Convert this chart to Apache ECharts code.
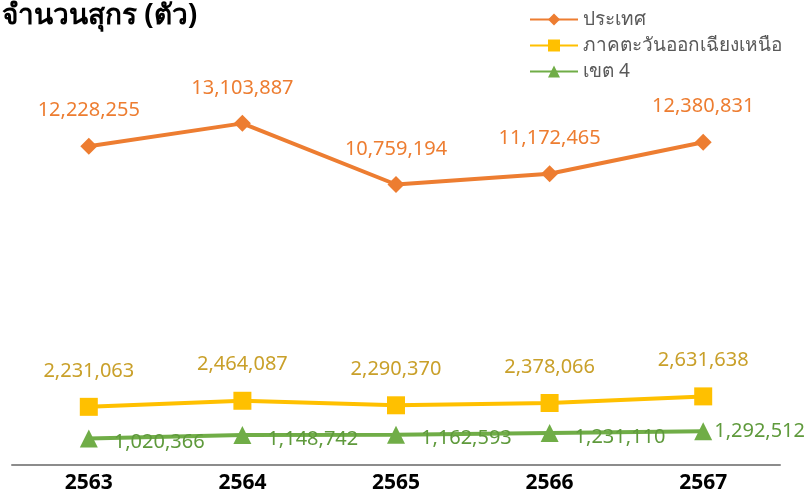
<!DOCTYPE html>
<html><head><meta charset="utf-8">
<script src="https://cdn.jsdelivr.net/npm/echarts@6/dist/echarts.min.js"></script>
<style>html,body{margin:0;padding:0;background:#fff}#c{width:808px;height:497px}</style>
</head><body><div id="c"></div>
<script>
const categories = ['2563','2564','2565','2566','2567'];
const seriesNames = ['ประเทศ','ภาคตะวันออกเฉียงเหนือ','เขต 4'];
const country = [12228255, 13103887, 10759194, 11172465, 12380831];
const northeast = [2231063, 2464087, 2290370, 2378066, 2631638];
const region4 = [1020366, 1148742, 1162593, 1231110, 1292512];
const titleText = 'จำนวนสุกร (ตัว)';

const fmt = p => Number(p.value).toLocaleString('en-US');
const font = '"Noto Sans", sans-serif';
const region4Data = region4.map((v, i) => i === region4.length - 1
  ? { value: v, label: { distance: 2, offset: [0, 0] } } : v);
const chart = echarts.init(document.getElementById('c'));
chart.setOption({
  animation: false,
  title: { text: titleText, left: -3, top: -3, textStyle: { fontFamily: font, fontSize: 28, fontWeight: 'bold', color: '#000' } },
  legend: {
    orient: 'vertical', left: 524, top: 5, itemWidth: 48, itemHeight: 15, itemGap: 7, data: seriesNames,
    textStyle: { fontFamily: font, fontSize: 19, color: '#595959' }
  },
  grid: { left: 12, right: 28, top: 100, bottom: 32 },
  xAxis: {
    type: 'category', data: categories, boundaryGap: true,
    axisLine: { lineStyle: { color: '#8c8c8c', width: 2 } }, axisTick: { show: false },
    axisLabel: { fontFamily: font, fontSize: 21, fontWeight: 'bold', color: '#000', margin: 8 }
  },
  yAxis: { type: 'value', min: 0, max: 14000000, show: false, splitLine: { show: false } },
  series: [
    { name: seriesNames[0], type: 'line', data: country, symbol: 'diamond', symbolSize: 17,
      itemStyle: { color: '#ED7D31' }, lineStyle: { width: 4, color: '#ED7D31' },
      label: { show: true, position: 'top', distance: 17, formatter: fmt, fontFamily: font, fontSize: 20, color: '#ED7D31' } },
    { name: seriesNames[1], type: 'line', data: northeast, symbol: 'rect', symbolSize: 18,
      itemStyle: { color: '#FFC000' }, lineStyle: { width: 4, color: '#FFC000' },
      label: { show: true, position: 'top', distance: 17, formatter: fmt, fontFamily: font, fontSize: 20, color: '#C9A02A' } },
    { name: seriesNames[2], type: 'line', data: region4Data, symbol: 'triangle', symbolSize: 18,
      itemStyle: { color: '#70AD47' }, lineStyle: { width: 4, color: '#70AD47' },
      label: { show: true, position: 'right', distance: 16, offset: [0, 4], formatter: fmt, fontFamily: font, fontSize: 20, color: '#5F9A3C' } }
  ]
});
</script></body></html>
